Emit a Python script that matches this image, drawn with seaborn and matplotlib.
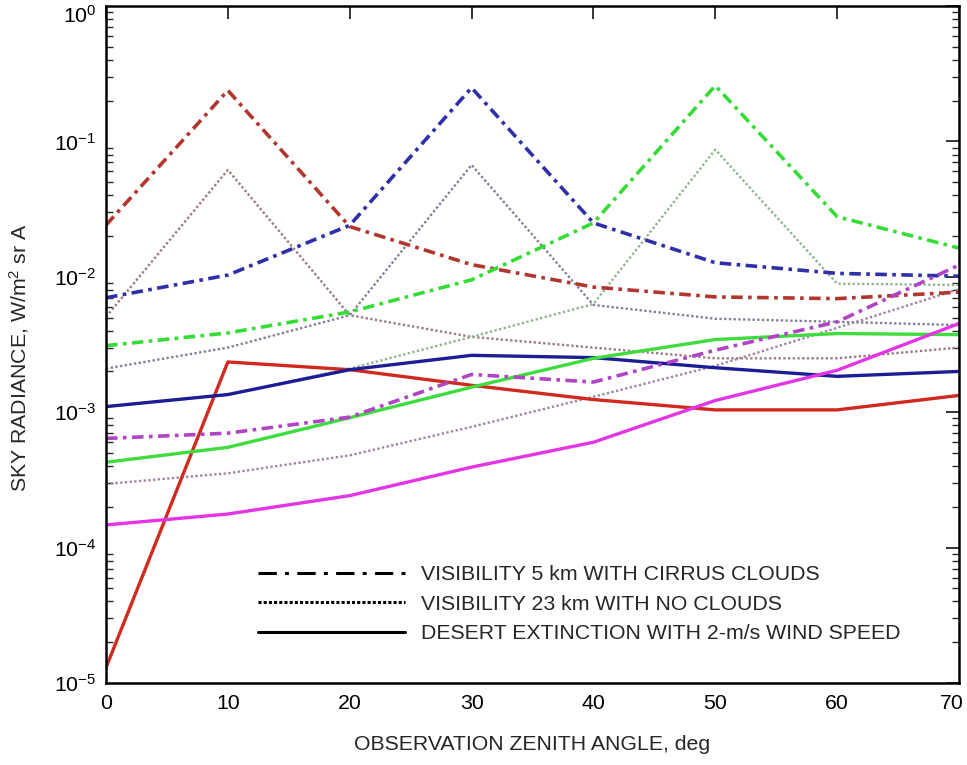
import matplotlib
matplotlib.use("Agg")
import matplotlib.pyplot as plt
from matplotlib import font_manager
from matplotlib.lines import Line2D
from matplotlib.transforms import ScaledTranslation
from matplotlib.ticker import LogLocator, LogFormatterMathtext, NullFormatter, FixedLocator
import numpy as np
import pandas as pd
import seaborn as sns

# Observation zenith angles, deg
angles = [0, 10, 20, 30, 40, 50, 60, 70]

# Visibility 5 km with cirrus clouds
cirrus_red = [0.0241, 0.238, 0.0235, 0.0123, 0.0084, 0.0071, 0.0069, 0.0077]
cirrus_blue = [0.0070, 0.0103, 0.0240, 0.249, 0.0250, 0.0127, 0.0106, 0.0101]
cirrus_green = [0.0031, 0.00385, 0.0055, 0.0095, 0.0250, 0.258, 0.0278, 0.0163]
cirrus_magenta = [0.00064, 0.00070, 0.00092, 0.0019, 0.00167, 0.00287, 0.00465, 0.0122]

# Visibility 23 km with no clouds
clear_red = [0.00506, 0.0616, 0.0052, 0.0036, 0.0030, 0.0025, 0.0025, 0.0030]
clear_blue = [0.0021, 0.0030, 0.0052, 0.067, 0.0062, 0.0049, 0.00465, 0.0044]
clear_green = [0.0011, 0.00135, 0.0021, 0.0036, 0.0063, 0.087, 0.0089, 0.0087]
clear_magenta = [0.000295, 0.000354, 0.00048, 0.00078, 0.0013, 0.0022, 0.0042, 0.0081]

# Desert extinction with 2-m/s wind speed
desert_red = [1.3e-5, 0.00235, 0.00206, 0.00158, 0.00124, 0.00104, 0.00104, 0.00133]
desert_blue = [0.00110, 0.00135, 0.00206, 0.00263, 0.00253, 0.00213, 0.00184, 0.0020]
desert_green = [0.000427, 0.00055, 0.00091, 0.00153, 0.0025, 0.00344, 0.00381, 0.00374]
desert_magenta = [0.000147, 0.000177, 0.000242, 0.000393, 0.00060, 0.00122, 0.00204, 0.00452]

legend_labels = [
    "VISIBILITY 5 km WITH CIRRUS CLOUDS",
    "VISIBILITY 23 km WITH NO CLOUDS",
    "DESERT EXTINCTION WITH 2-m/s WIND SPEED",
]
x_label = "OBSERVATION ZENITH ANGLE, deg"
y_label = "SKY RADIANCE, W/m$^{2}$ sr A"

# ---- style -------------------------------------------------------------
sns.set_style("white")
installed = {f.name for f in font_manager.fontManager.ttflist}
if "Liberation Sans Narrow" in installed:
    FAMILY, FS = "Liberation Sans Narrow", 18.3
else:
    FAMILY, FS = "Liberation Sans", 15.3
plt.rcParams["font.family"] = [FAMILY, "DejaVu Sans"]
plt.rcParams["mathtext.fontset"] = "custom"
plt.rcParams["mathtext.rm"] = FAMILY
plt.rcParams["mathtext.it"] = FAMILY + ":italic"
plt.rcParams["mathtext.bf"] = FAMILY + ":bold"
FS_PX = FS * 100 / 72

DASHDOT = (0, (3.2, 1.5, 1.0, 1.5))
DOTTED = (0, (1.0, 1.0))

series = [
    # name, values, colour, linestyle, linewidth
    ("clear_red", clear_red, "#9c7c7c", DOTTED, 1.7),
    ("clear_blue", clear_blue, "#80809a", DOTTED, 1.7),
    ("clear_green", clear_green, "#90b490", DOTTED, 1.7),
    ("clear_magenta", clear_magenta, "#a084a0", DOTTED, 1.7),
    ("desert_red", desert_red, "#d02a1e", "-", 2.4),
    ("desert_blue", desert_blue, "#1c1c96", "-", 2.4),
    ("desert_green", desert_green, "#3edc3e", "-", 2.4),
    ("desert_magenta", desert_magenta, "#e335e3", "-", 2.4),
    ("cirrus_red", cirrus_red, "#b3362e", DASHDOT, 2.6),
    ("cirrus_blue", cirrus_blue, "#2f2fa8", DASHDOT, 2.6),
    ("cirrus_green", cirrus_green, "#36dc36", DASHDOT, 2.6),
    ("cirrus_magenta", cirrus_magenta, "#b044c4", DASHDOT, 2.6),
]

df = pd.concat(
    [pd.DataFrame({"angle": angles, "radiance": vals, "series": name})
     for name, vals, *_ in series],
    ignore_index=True,
)

fig = plt.figure(figsize=(9.67, 7.65), dpi=100)
ax = fig.add_axes([106 / 967, 1 - 683 / 765, 853 / 967, 677 / 765])

for name, _, color, ls, lw in series:
    sns.lineplot(
        data=df[df["series"] == name], x="angle", y="radiance",
        ax=ax, color=color, linestyle=ls, linewidth=lw,
        estimator=None, sort=False, legend=False,
    )

ax.set_yscale("log")
ax.set_xlim(0, 70)
ax.set_ylim(1e-5, 1)

ax.xaxis.set_major_locator(FixedLocator(angles))
ax.yaxis.set_major_locator(LogLocator(base=10, numticks=10))
ax.yaxis.set_minor_locator(LogLocator(base=10, subs=np.arange(2, 10), numticks=20))
ax.yaxis.set_major_formatter(LogFormatterMathtext())
ax.yaxis.set_minor_formatter(NullFormatter())

ax.tick_params(axis="both", which="major", direction="in", length=9.5, width=1.1,
               labelsize=FS, top=True, right=True, color="black", labelcolor="black")
ax.tick_params(axis="y", which="minor", direction="in", length=5, width=1.0,
               right=True, left=True)
ax.tick_params(axis="y", which="major", pad=7)
ax.tick_params(axis="x", which="major", pad=8)

for sp in ax.spines.values():
    sp.set_visible(True)
    sp.set_linewidth(1.8)
    sp.set_color("black")

ax.set_xlabel(x_label, fontsize=FS, labelpad=16)
ax.set_ylabel(y_label, fontsize=FS)
ax.yaxis.set_label_coords(-0.088, 0.48)
ax.grid(False)

# keep the outermost tick labels inside the canvas
fig.canvas.draw()
ylabels = ax.get_yticklabels()
for lab in ylabels:
    if lab.get_text().endswith("{0}}$") or lab.get_text().endswith("^{0}}$"):
        lab.set_transform(lab.get_transform() + ScaledTranslation(0, -8 / 100, fig.dpi_scale_trans))
xlabels = ax.get_xticklabels()
xlabels[-1].set_transform(xlabels[-1].get_transform()
                          + ScaledTranslation(-7 / 100, 0, fig.dpi_scale_trans))

handles = [
    Line2D([], [], color="black", lw=2.2, linestyle=(0, (6, 2.7, 1.3, 2.7))),
    Line2D([], [], color="black", lw=2.2, linestyle=(0, (1.0, 0.7))),
    Line2D([], [], color="black", lw=2.2, linestyle="-"),
]
ax.legend(handles, legend_labels, loc="center left",
          bbox_to_anchor=((258 - 106) / 853, (683 - 604) / 677),
          frameon=False, fontsize=FS, handlelength=147 / FS_PX,
          handletextpad=16 / FS_PX, labelspacing=(36 - 1.2 * FS_PX) / FS_PX,
          borderpad=0, borderaxespad=0)

fig.savefig("out.png", dpi=100, facecolor="white")
